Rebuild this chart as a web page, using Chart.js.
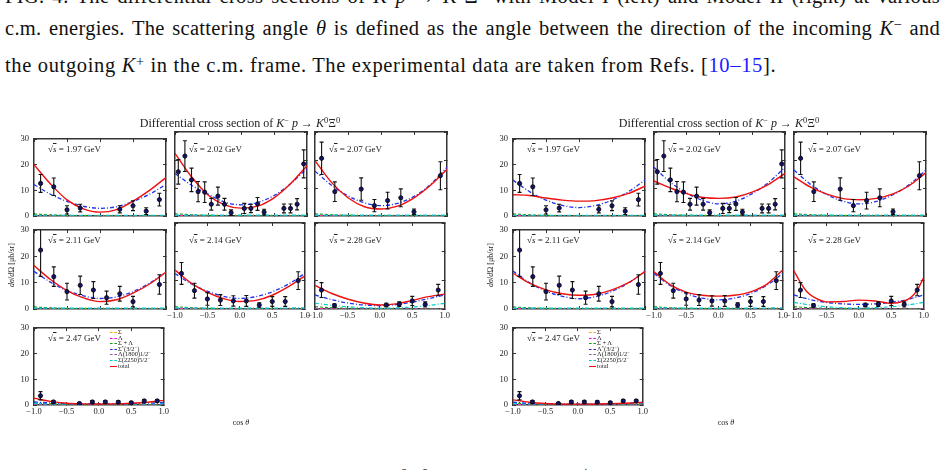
<!DOCTYPE html>
<html lang="en">
<head>
<meta charset="UTF-8">
<title>K- p -> K0 Xi0 differential cross sections</title>
<style>
  body { margin:0; width:945px; height:470px; overflow:hidden; background:#fff; position:relative;
         font-family:"Liberation Serif", "DejaVu Serif", serif; color:#111; }
  .line { position:absolute; left:5px; width:935px; font-size:20.5px; line-height:20.5px; letter-spacing:0.65px; white-space:nowrap; }
  .just { text-align:justify; text-align-last:justify; white-space:normal; letter-spacing:0.3px; }
  .box { position:absolute; }
  .lab { position:absolute; font-size:9px; line-height:9px; white-space:nowrap; color:#222; }
  .title { position:absolute; font-size:12px; line-height:12px; white-space:nowrap; transform:translateX(-50%); color:#222; }
  .ylab { position:absolute; font-size:8px; line-height:8px; white-space:nowrap; transform:translate(-50%,-50%) rotate(-90deg); color:#222; }
  .xlab { position:absolute; font-size:8px; line-height:8px; white-space:nowrap; transform:translateX(-50%); color:#222; }
  .leg { position:absolute; font-size:6.5px; line-height:6px; white-space:nowrap; color:#222; }
  .leg span.s { display:inline-block; width:7px; margin-right:1px; vertical-align:middle; }
  sup { font-size:70%; line-height:0; vertical-align:0.45em; }
  .ov { text-decoration:overline; }
  a { color:#1a1aff; text-decoration:none; }
</style>
</head>
<body>

<div class="line just" style="top:-14px;">FIG. 4: The differential cross sections of <i>K</i><sup>−</sup><i>p</i> → <i>K</i><sup>0</sup>Ξ<sup>0</sup> with Model I (left) and Model II (right) at various</div>
<div class="line just" style="top:18px;">c.m. energies. The scattering angle <i>θ</i> is defined as the angle between the direction of the incoming <i>K</i><sup>−</sup> and</div>
<div class="line" style="top:55px;">the outgoing <i>K</i><sup>+</sup> in the c.m. frame. The experimental data are taken from Refs. [<a>10–15</a>].</div>
<div class="line just" style="top:468px;">FIG. 5: The total cross sections of <i>K</i><sup>−</sup><i>p</i> → <i>K</i><sup>0</sup>Ξ<sup>0</sup> as functions of √<i>s</i> in Model I (left) and Model II (right).</div>

<script src="https://cdn.jsdelivr.net/npm/chart.js"></script>
<script>
// energies (GeV) of the seven panels
const energies = ['1.97', '2.02', '2.07', '2.11', '2.14', '2.28', '2.47'];

// experimental data: cos(theta), dsigma/dOmega [mub/sr], error
const expCos = [
  [-0.9, -0.7, -0.5, -0.3, 0.3, 0.5, 0.7, 0.9],
  [-0.95, -0.85, -0.75, -0.65, -0.55, -0.45, -0.35, -0.25, -0.15, 0.05, 0.15, 0.25, 0.35, 0.65, 0.75, 0.85, 0.95],
  [-0.9, -0.7, -0.3, -0.1, 0.1, 0.3, 0.5, 0.9],
  [-0.9, -0.7, -0.5, -0.3, -0.1, 0.1, 0.3, 0.5, 0.9],
  [-0.9, -0.7, -0.5, -0.3, -0.1, 0.1, 0.3, 0.5, 0.7, 0.9],
  [-0.9, -0.7, 0.1, 0.3, 0.5, 0.7, 0.9],
  [-0.9, -0.7, -0.3, -0.1, 0.1, 0.3, 0.5, 0.7, 0.9]
];
const expVal = [
  [12.7, 11.4, 2.4, 3.1, 2.6, 4.0, 1.9, 6.4],
  [15.8, 21.4, 12.9, 8.7, 8.5, 4.2, 7.1, 4.2, 1.2, 2.7, 2.7, 4.3, 1.4, 2.7, 2.7, 4.2, 18.6],
  [20.6, 8.7, 9.6, 3.7, 5.5, 6.5, 1.5, 14.4],
  [22.4, 12.3, 6.6, 9.0, 7.2, 4.3, 5.8, 2.8, 9.3],
  [12.4, 6.4, 3.5, 3.1, 2.8, 2.8, 1.4, 2.6, 2.6, 9.9],
  [6.6, 1.2, 1.4, 1.7, 2.8, 1.6, 6.6],
  [3.6, 1.2, 0.6, 1.2, 1.2, 1.1, 0.9, 1.6, 1.6]
];
const expErr = [
  [3.5, 3.4, 1.6, 1.5, 1.4, 1.9, 1.3, 2.5],
  [4.4, 5.5, 4.2, 3.6, 3.7, 2.1, 3.2, 2.1, 1.0, 1.8, 1.5, 2.3, 1.0, 1.6, 1.6, 2.0, 5.0],
  [5.8, 3.5, 4.0, 2.2, 3.0, 3.2, 1.0, 5.0],
  [10.0, 3.7, 3.2, 3.5, 3.2, 2.5, 2.8, 2.0, 3.7],
  [3.8, 2.6, 2.2, 1.9, 1.8, 1.9, 0.8, 1.7, 1.7, 3.1],
  [2.6, 0.6, 0.6, 0.8, 1.6, 0.9, 2.0],
  [1.6, 0.5, 0.3, 0.5, 0.5, 0.5, 0.4, 0.5, 0.5]
];

// model curves, read at these cos(theta) values
const gridCos = [-1, -0.75, -0.5, -0.25, 0, 0.25, 0.5, 0.75, 1];
const fineCos = [-1, -0.9, -0.8, -0.7, -0.5, -0.25, 0, 0.25, 0.5, 0.7, 0.8, 0.9, 1];

const leftTotal = [
  [20, 12.5, 6.3, 2.8, 1.5, 2.5, 5.8, 10, 15],
  [22.4, 14, 7.5, 4, 2.8, 3.5, 6.5, 11.5, 18],
  [19.8, 12, 6.5, 3.3, 2.5, 3.5, 6.5, 11, 16.7],
  [16.5, 11.2, 7, 4.2, 2.8, 3.5, 6, 9.5, 14],
  [13.6, 9, 5.8, 3.6, 2.6, 3, 4.8, 7.8, 11.5],
  [8.2, 5.5, 3.5, 2.1, 1.4, 1.8, 3, 4.3, 5.2],
  [2.7, 1.4, 0.7, 0.45, 0.4, 0.45, 0.7, 1.1, 1.8]
];
const leftResonance = [
  [12.3, 8.5, 5.7, 3.8, 3.0, 3.6, 5.7, 8.5, 12.3],
  [15.2, 11, 7.8, 5, 4, 4.8, 7.3, 11.5, 17],
  [16, 11, 7.2, 4.7, 3.7, 4.5, 7, 11.3, 17.4],
  [14.3, 10.2, 7, 5, 4, 4.6, 6.6, 9.8, 14],
  [12.4, 8.8, 6.2, 4.4, 3.7, 4.3, 6, 8.7, 12.4],
  [4.9, 3.3, 2.1, 1.4, 1.2, 1.5, 2.4, 3.6, 4.9],
  [1.2, 0.8, 0.55, 0.42, 0.4, 0.42, 0.55, 0.75, 1.0]
];
const leftSigma2250 = [
  [0.3, 0.3, 0.3, 0.3, 0.3, 0.3, 0.3, 0.3, 0.3],
  [0.3, 0.3, 0.3, 0.3, 0.3, 0.3, 0.3, 0.3, 0.3],
  [0.3, 0.3, 0.3, 0.3, 0.3, 0.3, 0.3, 0.3, 0.3],
  [0.35, 0.3, 0.3, 0.3, 0.3, 0.3, 0.3, 0.3, 0.35],
  [0.4, 0.35, 0.3, 0.3, 0.3, 0.3, 0.3, 0.35, 0.4],
  [2.0, 1.3, 0.8, 0.45, 0.3, 0.4, 0.7, 1.2, 2.0],
  [0.6, 0.45, 0.35, 0.3, 0.3, 0.3, 0.35, 0.45, 0.6]
];

const rightTotal = [
  [8.3, 8.0, 7.0, 6.2, 5.8, 6.0, 7.0, 8.8, 11.6],
  [12.5, 10, 8, 6.6, 6.3, 6.8, 8.5, 11.3, 15.2],
  [14, 10.3, 7.8, 6.2, 5.8, 6.3, 7.9, 10.9, 15.5],
  [13.6, 9.8, 7.3, 5.8, 5.2, 5.6, 7.3, 10, 14.2],
  [13, 8.5, 5.9, 4.8, 4.5, 4.8, 6, 8.6, 13.6],
  [13.3, 9.2, 6.0, 4.2, 2.5, 2.6, 3.1, 2.8, 2.0, 2.8, 4.0, 6.6, 11],
  [2.0, 1.1, 0.6, 0.4, 0.35, 0.4, 0.5, 0.7, 1.0]
];
const rightResonance = [
  [14, 9.5, 6.2, 4.1, 3.3, 4.1, 6.2, 9.5, 14],
  [17.4, 12, 8.2, 5.5, 4.3, 5.3, 8, 12, 17.4],
  [16.4, 11.3, 7.6, 5.2, 4.3, 5.2, 7.6, 11.3, 16.4],
  [14.4, 10, 6.8, 4.8, 3.9, 4.7, 6.7, 9.9, 14.4],
  [12.4, 8.2, 5.4, 3.8, 3.2, 3.8, 5.4, 8.2, 12.4],
  [4.9, 3.3, 2.3, 1.8, 1.6, 1.8, 2.3, 3.3, 4.9],
  [1.1, 0.7, 0.45, 0.35, 0.3, 0.35, 0.45, 0.7, 1.0]
];
const rightSigma2250 = [
  [0.3, 0.3, 0.3, 0.3, 0.3, 0.3, 0.3, 0.3, 0.3],
  [0.3, 0.3, 0.3, 0.3, 0.3, 0.3, 0.3, 0.3, 0.3],
  [0.3, 0.3, 0.3, 0.3, 0.3, 0.3, 0.3, 0.3, 0.3],
  [0.35, 0.3, 0.3, 0.3, 0.3, 0.3, 0.3, 0.3, 0.35],
  [0.4, 0.35, 0.3, 0.3, 0.3, 0.3, 0.3, 0.35, 0.4],
  [2.3, 1.4, 0.8, 0.45, 0.3, 0.45, 0.8, 1.4, 2.3],
  [0.6, 0.45, 0.35, 0.3, 0.3, 0.3, 0.35, 0.45, 0.6]
];
// small background pieces, same in every panel
const sigmaPart  = [0.15, 0.12, 0.1, 0.1, 0.1, 0.1, 0.1, 0.1, 0.1];
const lambdaPart = [0.05, 0.05, 0.05, 0.05, 0.05, 0.05, 0.05, 0.05, 0.05];
const sumPart    = [0.8, 0.45, 0.25, 0.15, 0.1, 0.1, 0.1, 0.1, 0.1];
const l1800Part  = [0.05, 0.05, 0.05, 0.05, 0.05, 0.05, 0.05, 0.05, 0.05];

const xTicks = [-1, -0.5, 0, 0.5, 1];
const yTicks = [0, 10, 20, 30];

// layout
const rowTop = [132, 223, 321];
const rowH = [84, 86, 84];
const panels = [
  { cols: [[34, 166], [175, 307], [315, 447]], total: leftTotal, res: leftResonance, s2250: leftSigma2250,
    resName: 'Σ<sup>*</sup>(3/2<sup>−</sup>)', titleX: 240, yLabX: 12, cosX: 241 },
  { cols: [[513, 645], [654, 785], [794, 926]], total: rightTotal, res: rightResonance, s2250: rightSigma2250,
    resName: 'Λ<sup>*</sup>(3/2<sup>−</sup>)', titleX: 719, yLabX: 491, cosX: 726 }
];

const errorBars = {
  id: 'errorBars',
  beforeDatasetDraw(chart, args) {
    const ds = chart.data.datasets[args.index];
    if (!ds.errors) return;
    const { ctx, chartArea, scales: { x, y } } = chart;
    ctx.save();
    ctx.beginPath();
    ctx.rect(chartArea.left, chartArea.top, chartArea.width, chartArea.height);
    ctx.clip();
    ctx.strokeStyle = '#111';
    ctx.lineWidth = 1.1;
    ds.data.forEach((p, i) => {
      const px = x.getPixelForValue(p.x);
      const lo = y.getPixelForValue(p.y - ds.errors[i]);
      const hi = y.getPixelForValue(p.y + ds.errors[i]);
      ctx.beginPath();
      ctx.moveTo(px, lo); ctx.lineTo(px, hi);
      ctx.moveTo(px - 2, lo); ctx.lineTo(px + 2, lo);
      ctx.moveTo(px - 2, hi); ctx.lineTo(px + 2, hi);
      ctx.stroke();
    });
    ctx.restore();
  }
};

function pts(xs, ys) {
  return ys.map((v, i) => ({ x: xs[i], y: v }));
}

function curve(label, xs, ys, color, dash, width) {
  return {
    label: label, data: pts(xs, ys), showLine: true, borderColor: color, borderWidth: width,
    borderDash: dash, pointRadius: 0, cubicInterpolationMode: 'monotone', fill: false
  };
}

const tickFont = { family: 'Liberation Serif', size: 8.5 };
const fmtX = v => (v < 0 ? '−' : '') + Math.abs(v).toFixed(1);

function axis(pos, showLabels, isX) {
  const a = {
    type: 'linear', position: pos,
    min: isX ? -1 : 0, max: isX ? 1 : 30,
    afterBuildTicks: s => { s.ticks = (isX ? xTicks : yTicks).map(v => ({ value: v })); },
    grid: { drawOnChartArea: false, tickLength: -3, color: '#333', lineWidth: 1 },
    border: { display: true, color: '#333', width: 1.5 },
    ticks: { display: showLabels, font: tickFont, color: '#222', padding: isX ? 5 : 8, maxRotation: 0, autoSkip: false,
             callback: isX ? fmtX : (v => v) }
  };
  if (pos === 'bottom') a.afterFit = s => { s.height = 18; };
  if (pos === 'top') a.afterFit = s => { s.height = 0; };
  if (pos === 'left') a.afterFit = s => { s.width = 30; };
  if (pos === 'right') a.afterFit = s => { s.width = 0; };
  return a;
}

function addDiv(cls, html, left, top) {
  const d = document.createElement('div');
  d.className = cls;
  d.innerHTML = html;
  d.style.left = left + 'px';
  d.style.top = top + 'px';
  document.body.appendChild(d);
  return d;
}

panels.forEach(p => {
  energies.forEach((e, i) => {
    const row = Math.floor(i / 3), col = i % 3;
    const L = p.cols[col][0], W = p.cols[col][1] - L;
    const T = rowTop[row], H = rowH[row];

    const box = document.createElement('div');
    box.className = 'box';
    box.style.left = (L - 30) + 'px';
    box.style.top = (T - 6) + 'px';
    box.style.width = (W + 38) + 'px';
    box.style.height = (H + 24) + 'px';
    const cv = document.createElement('canvas');
    box.appendChild(cv);
    document.body.appendChild(box);

    const tot = p.total[i];
    const totCos = tot.length === fineCos.length ? fineCos : gridCos;

    new Chart(cv, {
      type: 'scatter',
      data: {
        datasets: [
          { label: 'data', data: pts(expCos[i], expVal[i]), errors: expErr[i], showLine: false,
            pointRadius: 2.1, pointBackgroundColor: '#13136e', pointBorderColor: '#000', pointBorderWidth: 0.8 },
          curve('total', totCos, tot, '#ee1111', [], 1.4),
          curve('res', gridCos, p.res[i], '#2233ee', [4, 2, 1, 2], 1.3),
          curve('s2250', gridCos, p.s2250[i], '#00cccc', [4, 2, 1, 2], 1.2),
          curve('l1800', gridCos, l1800Part, '#9b4fa6', [4, 2, 1, 2], 1.1),
          curve('sum', gridCos, sumPart, '#119911', [3, 2], 1.1),
          curve('lambda', gridCos, lambdaPart, '#ff00ff', [3, 2], 1.0),
          curve('sigma', gridCos, sigmaPart, '#ffa500', [3, 2], 1.0)
        ]
      },
      options: {
        responsive: true, maintainAspectRatio: false, animation: false,
        layout: { padding: { top: 6, right: 8, left: 0, bottom: 0 } },
        scales: {
          x: axis('bottom', i >= 4, true),
          x2: axis('top', false, true),
          y: axis('left', col === 0, false),
          y2: axis('right', false, false)
        },
        plugins: { legend: { display: false }, tooltip: { enabled: false } }
      },
      plugins: [errorBars]
    });

    addDiv('lab', '√<span class="ov"><i>s</i></span> = ' + e + ' GeV', L + 14, T + 13);
  });

  // title, axis labels
  addDiv('title', 'Differential cross section of <i>K</i><sup>−</sup> <i>p</i> → <i>K</i><sup>0</sup>Ξ<sup>0</sup>', p.titleX, 117);
  addDiv('ylab', '<i>dσ</i>/<i>d</i>Ω [μb/sr]', p.yLabX, 265);
  addDiv('xlab', 'cos <i>θ</i>', p.cosX, 419);

  // legend inside the 2.47 GeV panel
  const legItems = [
    ['Σ', '#ffa500', 'dashed'],
    ['Λ', '#ff00ff', 'dashed'],
    ['Σ + Λ', '#119911', 'dashed'],
    [p.resName, '#2233ee', 'dashed'],
    ['Λ(1800)1/2<sup>−</sup>', '#9b4fa6', 'dashed'],
    ['Σ(2250)5/2<sup>−</sup>', '#00cccc', 'dashed'],
    ['total', '#ee1111', 'solid']
  ];
  const L0 = p.cols[0][0];
  legItems.forEach((it, k) => {
    addDiv('leg', '<span class="s" style="border-top:1.5px ' + it[2] + ' ' + it[1] + '"></span>' + it[0],
           L0 + 76, 329 + k * 5.6);
  });
});
</script>
</body>
</html>
